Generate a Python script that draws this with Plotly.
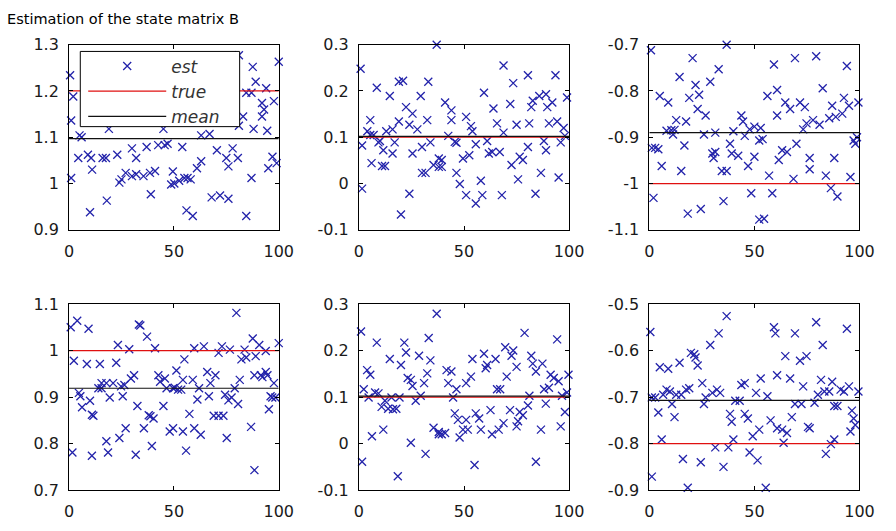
import plotly.graph_objects as go

TITLE = "Estimation of the state matrix B"

# ---- Data (x = sample index, y = estimate) ----
P1_X = [0.5, 2, 1, 87.6, 100, 89, 84.5, 87, 94, 92, 97.7, 93, 83, 92, 81, 5, 6, 19, 45, 63, 67, 81, 88, 94.5,
        47, 30, 37, 42.5, 45.6, 54, 70.5, 78, 4.4, 9, 10.5, 16, 17.6, 23, 32, 63, 75, 80.5, 97, 99, 1, 11, 27,
        24, 25, 30, 32, 35.5, 38.6, 41, 49.5, 56.5, 58, 61, 76, 95, 87, 48.7, 50.2, 52.5, 55, 39, 18, 10, 56,
        59, 68, 72, 76, 84.5]
P1_Y = [1.234, 1.188, 1.136, 1.252, 1.263, 1.22, 1.196, 1.196, 1.206, 1.174, 1.178, 1.16, 1.145, 1.145, 1.277,
        1.104, 1.10, 1.118, 1.118, 1.104, 1.107, 1.125, 1.118, 1.114, 1.086, 1.076, 1.079, 1.083, 1.083, 1.079,
        1.072, 1.076, 1.055, 1.062, 1.055, 1.055, 1.055, 1.062, 1.055, 1.048, 1.055, 1.055, 1.058, 1.044, 1.012,
        1.03, 1.023, 1.002, 1.009, 1.016, 1.02, 1.016, 1.023, 1.027, 1.026, 1.012, 1.009, 1.033, 1.037, 1.033,
        1.012, 0.998, 1.0, 1.006, 1.012, 0.977, 0.963, 0.938, 0.942, 0.93, 0.97, 0.974, 0.967, 0.93]

P2_X = [0.8, 1.5, 1.5, 4, 5.4, 5.4, 7, 6, 8.5, 9.3, 10, 11, 12.4, 11.6, 13, 14.7, 16, 17, 16, 19, 21, 19, 22.4,
        24, 24, 20, 25.5, 25.5, 27.8, 29.4, 30, 30, 31.7, 32.5, 33, 34, 35.5, 37, 38, 38, 39.4, 39.4, 41, 42.5,
        44, 44, 45.6, 46.4, 46.4, 48, 49.5, 51, 51, 52.5, 53.3, 54, 55.6, 55.6, 58, 58.7, 59.5, 61, 61.8, 63.4,
        64, 65.7, 67, 68, 68.8, 68.8, 72, 72.6, 73.4, 75, 75.7, 76.5, 78, 80.4, 80.4, 81, 82, 82.7, 84, 85.8,
        86.6, 88, 89, 89.6, 90.4, 92, 93.5, 94.3, 95, 96, 97.4, 99, 98, 89]
P2_Y = [0.248, -0.011, 0.082, 0.113, 0.137, 0.105, 0.105, 0.044, 0.207, 0.089, 0.092, 0.038, 0.038, 0.072,
        0.113, 0.189, 0.117, 0.089, 0.065, 0.22, 0.222, 0.134, 0.165, 0.127, -0.022, -0.067, 0.151, 0.065,
        0.117, 0.189, 0.079, 0.023, 0.023, 0.137, 0.22, 0.089, 0.04, 0.3, 0.054, 0.036, 0.036, 0.051, 0.175,
        0.103, 0.158, 0.137, 0.09, 0.088, 0.023, -0.001, 0.054, 0.144, -0.025, 0.061, 0.124, 0.113, 0.085,
        -0.043, 0.006, -0.025, 0.196, 0.092, 0.065, 0.068, 0.162, 0.13, 0.068, -0.025, 0.255, 0.11, 0.172,
        0.04, 0.217, 0.127, 0.009, 0.058, 0.051, 0.079, 0.234, 0.13, 0.165, 0.179, -0.022, 0.189, 0.023,
        0.092, 0.072, 0.165, 0.13, 0.175, 0.234, 0.134, 0.013, 0.089, 0.12, 0.186, 0.103, 0.193]

P3_X = [0.8, 2, 1.2, 2.8, 4.3, 5, 5.9, 9, 8.2, 10.5, 12, 11.3, 12.8, 14.4, 15.2, 16.7, 17.5, 18.3, 19, 20.6,
        22, 23, 23.7, 24.5, 26, 26.8, 29, 30, 30.6, 31.4, 31.4, 33, 34.5, 36.8, 35.3, 36.8, 38.4, 39.2, 42.3,
        40, 43.8, 44.6, 45.4, 47, 47.7, 48.5, 50, 50, 52.3, 54.6, 52.3, 53, 53.9, 57, 56.2, 58.5, 59.3, 60.8,
        60.8, 61.6, 63.2, 64.7, 65.5, 67, 68.6, 69.3, 70, 71.7, 73.2, 74, 74.8, 76.3, 76.3, 77.9, 79.4, 81,
        82.5, 84, 86.4, 87, 88, 89.5, 88.7, 91.8, 92.6, 94, 95, 95.7, 97.2, 98, 99.5, 98.8, 85.6]
P3_Y = [-0.712, -1.031, -0.923, -0.923, -0.926, -0.811, -0.962, -0.825, -0.886, -0.885, -0.884, -0.894, -0.863,
        -0.77, -0.973, -0.918, -0.866, -1.065, -0.815, -0.729, -0.787, -0.839, -0.808, -1.055, -0.894, -0.853,
        -0.78, -0.935, -0.945, -0.932, -0.89, -0.753, -0.973, -0.973, -1.038, -0.7, -0.914, -0.935, -0.94,
        -0.887, -0.853, -0.866, -0.897, -0.962, -0.883, -1.021, -0.877, -0.942, -1.078, -1.076, -0.907, -0.88,
        -0.904, -0.983, -0.811, -1.021, -0.743, -0.798, -0.853, -0.949, -0.928, -0.825, -0.932, -0.839, -0.99,
        -0.729, -0.914, -0.825, -0.883, -0.835, -0.87, -0.945, -0.969, -0.863, -0.725, -0.873, -0.794, -0.983,
        -1.01, -0.832, -0.945, -1.028, -0.856, -0.849, -0.815, -0.746, -0.832, -0.986, -0.907, -0.914, -0.825,
        -0.9, -0.859]

P4_X = [0.8, 1.6, 2.3, 3.9, 4.7, 5.4, 6.2, 8.5, 9.3, 10, 10.9, 11.6, 10.9, 14, 15.5, 14.7, 15.5, 17.8, 17.8,
        18.6, 19.4, 21, 22.5, 23.3, 24, 24.8, 25.6, 26.4, 28.7, 27, 29.5, 31, 31.8, 32.6, 33.3, 34, 35.7, 37.2,
        38, 38.8, 40.3, 39.5, 41, 42.6, 43.4, 45, 45.7, 46.5, 48, 49.6, 50.4, 49.6, 51.2, 52, 53.5, 54.3, 54.3,
        55, 55.8, 57.4, 59, 59.7, 59.7, 61.2, 62, 62.8, 64.3, 65.9, 66.7, 67.4, 69, 71.3, 69.8, 71.3, 72.9,
        73.6, 74.4, 75.2, 76, 76.7, 77.5, 79, 79.8, 80.6, 81.4, 82.2, 83.7, 84.5, 86.8, 88.4, 87.6, 88.4, 89,
        90.7, 91.5, 92.2, 93.8, 93.8, 94.6, 95.3, 96.1, 96.9, 97.7, 98.4, 100]
P4_Y = [1.05, 0.781, 0.978, 1.064, 0.909, 0.902, 0.878, 0.971, 1.047, 0.892, 0.862, 0.86, 0.774, 0.919, 0.919,
        0.971, 0.93, 0.93, 0.805, 0.781, 0.899, 0.93, 0.974, 1.012, 0.812, 0.923, 0.902, 0.926, 1.003, 0.833,
        0.94, 0.947, 0.776, 0.881, 1.056, 1.054, 0.833, 1.03, 0.861, 0.859, 0.854, 0.795, 1.005, 0.947, 0.933,
        0.881, 0.94, 0.919, 0.826, 0.919, 0.92, 0.833, 0.957, 0.916, 0.916, 0.937, 0.826, 0.981, 0.785, 0.864,
        0.937, 0.833, 1.005, 0.895, 0.919, 0.819, 1.009, 0.954, 0.902, 0.93, 0.86, 0.86, 0.947, 0.995, 1.009,
        0.86, 0.905, 0.812, 0.893, 1.002, 0.899, 0.919, 1.081, 0.885, 0.937, 0.981, 1.002, 0.985, 0.836,
        0.743, 1.026, 0.947, 0.988, 1.012, 0.947, 0.943, 0.999, 0.954, 0.947, 0.874, 0.902, 0.899, 0.93,
        0.899, 1.016]

P5_X = [1, 1.5, 2.3, 3.9, 4.6, 5.4, 6.2, 7.7, 9.3, 8.5, 10.8, 11.6, 12.4, 13.9, 14.7, 15.5, 16.2, 17.8, 18.5,
        19.3, 20, 21.6, 22.4, 23.2, 24.7, 24.7, 25.5, 27, 28.6, 29.4, 31, 31.7, 32.5, 33.2, 34, 35.5, 37, 38,
        39.4, 41, 38, 41.7, 42.5, 44, 44.8, 45.6, 46.4, 47.1, 47.9, 49.5, 51, 51, 51.8, 53.3, 54, 55, 55.6,
        57.2, 58, 59.5, 60.3, 61, 62.6, 63.3, 65, 65.7, 67.2, 66.5, 68.8, 69.6, 70.3, 71.9, 72.6, 73.4, 75,
        75, 75.7, 76.5, 78, 78.8, 80.4, 81.1, 82, 82.7, 84.2, 84.2, 86.6, 87.3, 88.1, 88.9, 90.4, 91.2, 92.7,
        94.3, 95, 96, 96.6, 98, 99, 99.7]
P5_Y = [0.241, -0.039, 0.117, 0.158, 0.099, 0.148, 0.016, 0.11, 0.108, 0.217, 0.079, 0.03, 0.092, 0.075, 0.182,
        0.099, 0.074, 0.075, -0.07, 0.099, 0.169, 0.217, 0.196, 0.141, 0.002, 0.137, 0.124, 0.092, 0.189,
        0.103, 0.13, -0.022, 0.151, 0.227, 0.179, 0.034, 0.279, 0.025, 0.02, 0.023, 0.02, 0.158, 0.13, 0.155,
        0.099, 0.065, 0.117, 0.051, 0.013, 0.03, 0.13, 0.051, 0.03, 0.144, 0.182, -0.046, 0.065, 0.054, 0.03,
        0.193, 0.162, 0.169, 0.072, 0.02, 0.182, 0.117, 0.117, 0.03, 0.044, 0.207, 0.144, 0.072, 0.189, 0.2,
        0.165, 0.037, 0.048, 0.068, 0.061, 0.238, 0.082, 0.103, 0.189, 0.172, 0.155, -0.039, 0.03, 0.172,
        0.117, 0.086, 0.12, 0.148, 0.141, 0.224, 0.134, 0.037, 0.103, 0.068, 0.11, 0.148]

P6_X = [0.5, 1.2, 1.2, 2.8, 4.3, 5, 5.9, 6.6, 8.2, 9, 9.8, 10.8, 12, 12.8, 14.4, 15.2, 16, 17.5, 18.3, 19, 19.8,
        21.4, 22, 23, 24.5, 25.2, 26, 26.8, 29, 30, 31.4, 32.2, 33, 33.7, 35.3, 36.8, 37.6, 38.4, 39.2, 40,
        40.9, 43, 43.8, 45.4, 45.4, 46.9, 47.7, 49.2, 50.8, 51.5, 52.3, 53, 55.4, 56.2, 57.7, 59.3, 60, 60.8,
        60.8, 63.2, 63.9, 64.7, 65.5, 67, 67.8, 69.3, 69.3, 71.7, 72.4, 73.2, 74.8, 75.5, 76.3, 78.6, 79.4,
        80.2, 81.7, 82.5, 83.3, 84, 85.6, 87, 88, 89.5, 88, 86.4, 91, 92.6, 94, 95, 95.7, 96.4, 97.2, 98, 99.5]
P6_Y = [-0.56, -0.871, -0.701, -0.701, -0.733, -0.636, -0.791, -0.695, -0.684, -0.639, -0.688, -0.715, -0.743,
        -0.695, -0.626, -0.695, -0.833, -0.684, -0.895, -0.681, -0.605, -0.608, -0.615, -0.632, -0.84, -0.67,
        -0.715, -0.701, -0.588, -0.691, -0.808, -0.684, -0.563, -0.691, -0.85, -0.526, -0.808, -0.736, -0.753,
        -0.791, -0.708, -0.708, -0.674, -0.67, -0.736, -0.746, -0.819, -0.784, -0.691, -0.836, -0.77, -0.66,
        -0.895, -0.698, -0.75, -0.55, -0.563, -0.653, -0.767, -0.77, -0.798, -0.612, -0.777, -0.66, -0.743,
        -0.563, -0.715, -0.622, -0.715, -0.677, -0.612, -0.764, -0.767, -0.712, -0.539, -0.695, -0.663,
        -0.588, -0.688, -0.822, -0.688, -0.667, -0.719, -0.719, -0.791, -0.801, -0.684, -0.688, -0.553,
        -0.677, -0.774, -0.729, -0.746, -0.76, -0.688]

PANELS_X = [P1_X, P2_X, P3_X, P4_X, P5_X, P6_X]
PANELS_Y = [P1_Y, P2_Y, P3_Y, P4_Y, P5_Y, P6_Y]
TRUE_VALUES = [1.2, 0.1, -1.0, 1.0, 0.1, -0.8]
MEAN_VALUES = [1.097, 0.102, -0.890, 0.919, 0.102, -0.707]
X_LIMITS = [0, 100]
X_TICKS = [0, 50, 100]
X_TICK_LABELS = ["0", "50", "100"]
Y_TICKS = [
    [0.9, 1.0, 1.1, 1.2, 1.3],
    [-0.1, 0.0, 0.1, 0.2, 0.3],
    [-1.1, -1.0, -0.9, -0.8, -0.7],
    [0.7, 0.8, 0.9, 1.0, 1.1],
    [-0.1, 0.0, 0.1, 0.2, 0.3],
    [-0.9, -0.8, -0.7, -0.6, -0.5],
]
Y_TICK_LABELS = [
    ["0.9", "1", "1.1", "1.2", "1.3"],
    ["-0.1", "0", "0.1", "0.2", "0.3"],
    ["-1.1", "-1", "-0.9", "-0.8", "-0.7"],
    ["0.7", "0.8", "0.9", "1", "1.1"],
    ["-0.1", "0", "0.1", "0.2", "0.3"],
    ["-0.9", "-0.8", "-0.7", "-0.6", "-0.5"],
]
LEGEND_NAMES = ["est", "true", "mean"]

# ---- Layout geometry (pixels -> paper) ----
W, H = 896, 531
COL_PX = [(65.5, 280), (362, 577), (659, 874)]
ROW_PX = [(37, 229), (306, 499)]
LEGEND_BOX_PX = (77, 44, 240, 122)  # left, top, right, bottom

BLUE = "#2222aa"
RED = "#e01010"
FONT = "DejaVu Sans"

fig = go.Figure()
axis_font = dict(family=FONT, size=16, color="#1a1a1a")

for i in range(6):
    r, c = divmod(i, 3)
    n = i + 1
    xa = "x" if n == 1 else f"x{n}"
    ya = "y" if n == 1 else f"y{n}"
    first = (i == 0)
    fig.add_trace(go.Scatter(
        x=PANELS_X[i], y=PANELS_Y[i], mode="markers", name=LEGEND_NAMES[0],
        marker=dict(symbol="x-thin", size=8, line=dict(width=1.3, color=BLUE), color=BLUE),
        xaxis=xa, yaxis=ya, showlegend=first, cliponaxis=False))
    fig.add_trace(go.Scatter(
        x=X_LIMITS, y=[TRUE_VALUES[i]] * 2, mode="lines", name=LEGEND_NAMES[1],
        line=dict(color=RED, width=1.2), xaxis=xa, yaxis=ya, showlegend=first))
    fig.add_trace(go.Scatter(
        x=X_LIMITS, y=[MEAN_VALUES[i]] * 2, mode="lines", name=LEGEND_NAMES[2],
        line=dict(color="#111111", width=1.2), xaxis=xa, yaxis=ya, showlegend=first))

    x0, x1 = COL_PX[c]
    y0, y1 = ROW_PX[r]
    common = dict(showline=True, linecolor="#000000", linewidth=1, mirror="ticks",
                  ticks="inside", ticklen=4, tickcolor="#000000", tickwidth=1,
                  showgrid=False, zeroline=False, tickfont=axis_font)
    fig.layout[f"xaxis{'' if n == 1 else n}"] = dict(
        domain=[x0 / W, x1 / W], range=X_LIMITS, tickvals=X_TICKS, ticktext=X_TICK_LABELS,
        anchor=ya, ticklabelstandoff=7, **common)
    yt = Y_TICKS[i]
    fig.layout[f"yaxis{'' if n == 1 else n}"] = dict(
        domain=[1 - y1 / H, 1 - y0 / H], range=[yt[0], yt[-1]], tickvals=yt,
        ticktext=Y_TICK_LABELS[i], anchor=xa, ticklabelstandoff=6, **common)

lx0, ly0, lx1, ly1 = LEGEND_BOX_PX
fig.add_shape(type="rect", xref="paper", yref="paper",
              x0=lx0 / W, x1=lx1 / W, y0=1 - ly1 / H, y1=1 - ly0 / H,
              fillcolor="white", line=dict(color="#000000", width=1), layer="above")

fig.update_layout(
    width=W, height=H, margin=dict(l=0, r=0, t=0, b=0),
    paper_bgcolor="white", plot_bgcolor="white",
    legend=dict(x=80 / W, y=1 - 41 / H, xanchor="left", yanchor="top",
                bgcolor="rgba(0,0,0,0)", borderwidth=0,
                font=dict(family=FONT, size=17, color="#333333", style="italic"),
                itemwidth=78, tracegroupgap=0),
    annotations=[dict(text=TITLE, x=0, y=1, xref="paper", yref="paper",
                      xanchor="left", yanchor="top", showarrow=False,
                      font=dict(family=FONT, size=14.5, color="#000000"))],
)

fig.write_html("out.html")
